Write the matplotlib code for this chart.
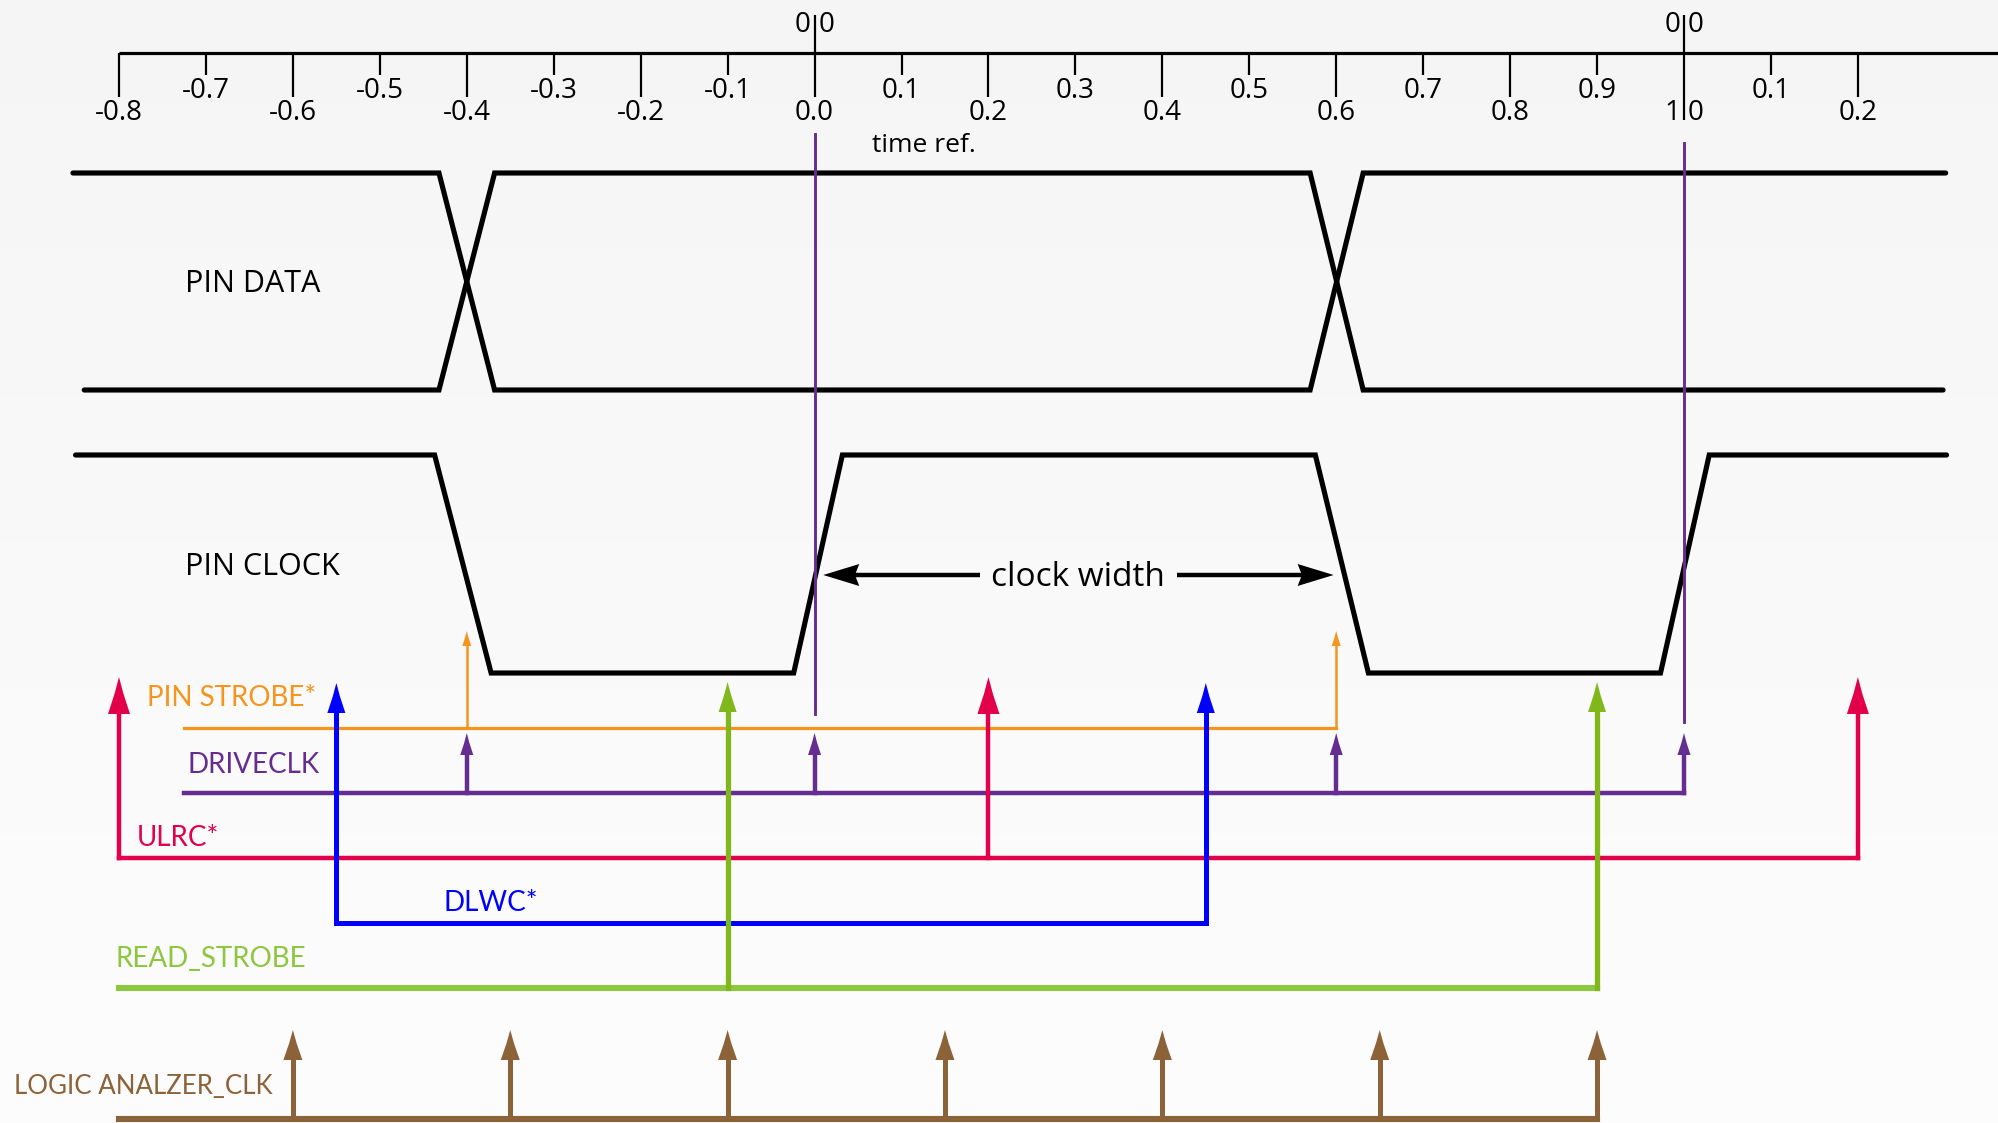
import numpy as np
import matplotlib
matplotlib.use("Agg")
import matplotlib.pyplot as plt
from matplotlib.patches import Polygon

# ---------------- data ----------------
tick_pos = [-0.8, -0.7, -0.6, -0.5, -0.4, -0.3, -0.2, -0.1, 0.0, 0.1,
            0.2, 0.3, 0.4, 0.5, 0.6, 0.7, 0.8, 0.9, 1.0, 1.1, 1.2]
tick_labels = ["-0.8", "-0.7", "-0.6", "-0.5", "-0.4", "-0.3", "-0.2", "-0.1",
               "0.0", "0.1", "0.2", "0.3", "0.4", "0.5", "0.6", "0.7", "0.8",
               "0.9", "1.0", "0.1", "0.2"]

# PIN DATA: two crossing traces (time, level 1=high / 0=low)
data_a_t = [-0.853, -0.432, -0.368, 0.570, 0.631, 1.301]
data_a_lv = [1, 1, 0, 0, 1, 1]
data_b_t = [-0.840, -0.432, -0.368, 0.570, 0.631, 1.298]
data_b_lv = [0, 0, 1, 1, 0, 0]

# PIN CLOCK
clock_t = [-0.850, -0.437, -0.372, -0.024, 0.032, 0.576, 0.637, 0.973, 1.029, 1.302]
clock_lv = [1, 1, 0, 0, 1, 1, 0, 0, 1, 1]

time_ref_t = [0.0, 1.0]
clock_width_t = [0.010, 0.597]

pin_strobe_start = -0.725
pin_strobe_t = [-0.4, 0.6]
driveclk_start = -0.725
driveclk_t = [-0.4, 0.0, 0.6, 1.0]
ulrc_t = [-0.8, 0.2, 1.2]
dlwc_t = [-0.55, 0.45]
read_strobe_start = -0.8
read_strobe_t = [-0.1, 0.9]
la_clk_start = -0.8
la_clk_t = [-0.6, -0.35, -0.1, 0.15, 0.4, 0.65, 0.9]

# ---------------- figure ----------------
W, H, DPI = 1999, 1123, 100
fig = plt.figure(figsize=(W / DPI, H / DPI), dpi=DPI)
ax = fig.add_axes([0, 0, 1, 1])
PXT = (1684 - 119) / 1.8            # pixels per time unit
XMIN = -0.8 - 119 / PXT
XMAX = XMIN + W / PXT
ax.set_xlim(XMIN, XMAX)
ax.set_ylim(H, 0)
ax.axis("off")

# background gradient
grad = np.linspace(0, 1, 256).reshape(-1, 1)
ax.imshow(np.dstack([0.962 + 0.03 * grad] * 3), extent=[XMIN, XMAX, H, 0],
          aspect="auto", zorder=0, interpolation="bilinear")

TICKFONT = ["Liberation Sans Narrow", "Open Sans", "DejaVu Sans"]
LABFONT = ["Lato", "Open Sans", "DejaVu Sans"]
REGFONT = ["Open Sans", "DejaVu Sans"]

# ---------------- time axis ----------------
AX_Y = 53
ax.plot([tick_pos[0], XMAX], [AX_Y, AX_Y], color="black", lw=2.3,
        solid_capstyle="butt", zorder=3)
for i, (tp, tl) in enumerate(zip(tick_pos, tick_labels)):
    major = (i % 2 == 0)
    y_end = 97 if major else 75
    y_top = AX_Y
    if tp == 0.0:
        y_top = 15
    if tp == 1.0:
        y_top, y_end = 15, 120
    ax.plot([tp, tp], [y_top, y_end], color="black", lw=1.6, zorder=4,
            solid_capstyle="butt")
    ly = 113 if major else 91
    if tp == 1.0:
        ax.text(tp - 4 / PXT, ly, "1", ha="right", va="center", fontsize=20,
                family=TICKFONT, zorder=5)
        ax.text(tp + 4 / PXT, ly, "0", ha="left", va="center", fontsize=20,
                family=TICKFONT, zorder=5)
    else:
        ax.text(tp, ly, tl, ha="center", va="center", fontsize=20,
                family=TICKFONT, zorder=5)
    if tp in (0.0, 1.0):
        ax.text(tp - 4 / PXT, 25, "0", ha="right", va="center", fontsize=20,
                family=TICKFONT, zorder=5)
        ax.text(tp + 4 / PXT, 25, "0", ha="left", va="center", fontsize=20,
                family=TICKFONT, zorder=5)

ax.text(XMIN + 872 / PXT, 145, "time ref.", ha="left", va="center", fontsize=19,
        family=REGFONT, zorder=5)

# ---------------- waveforms ----------------
def level_y(lv, hi, lo):
    return [hi if v else lo for v in lv]

WLW = 3.7
ax.plot(data_a_t, level_y(data_a_lv, 173, 390), color="black", lw=WLW,
        solid_joinstyle="miter", solid_capstyle="round", zorder=3)
ax.plot(data_b_t, level_y(data_b_lv, 173, 390), color="black", lw=WLW,
        solid_joinstyle="miter", solid_capstyle="round", zorder=3)
ax.plot(clock_t, level_y(clock_lv, 455, 673), color="black", lw=WLW,
        solid_joinstyle="miter", solid_capstyle="round", zorder=3)

ax.text(XMIN + 185 / PXT, 284, "PIN DATA", ha="left", va="center", fontsize=22,
        family=REGFONT, zorder=5)
ax.text(XMIN + 185 / PXT, 567, "PIN CLOCK", ha="left", va="center", fontsize=22,
        family=REGFONT, zorder=5)

# time reference lines
PURPLE = "#662d91"
ax.plot([time_ref_t[0]] * 2, [134, 714], color=PURPLE, lw=2.1, zorder=4)
ax.plot([time_ref_t[1]] * 2, [143, 722], color=PURPLE, lw=2.1, zorder=4)

# clock width dimension arrow
CW_Y = 575
mid = 0.5 * (clock_width_t[0] + clock_width_t[1])
gap = 0.113
for tip, end in ((clock_width_t[0], mid - gap), (clock_width_t[1], mid + gap)):
    d = 1 if end > tip else -1
    hl = 36 / PXT
    ax.plot([tip + d * hl * 0.8, end], [CW_Y, CW_Y], color="black", lw=3.2,
            solid_capstyle="butt", zorder=4)
    ax.add_patch(Polygon([(tip, CW_Y), (tip + d * hl, CW_Y - 11),
                          (tip + d * hl * 0.88, CW_Y), (tip + d * hl, CW_Y + 11)],
                         closed=True, color="black", lw=0, zorder=5))
ax.text(mid, CW_Y + 3, "clock width", ha="center", va="center", fontsize=24,
        family=REGFONT, zorder=5)


# ---------------- event signals ----------------
def head(t, y_tip, color, hw, hl):
    dx = hw / PXT
    pts = [(t, y_tip), (t + 0.2 * dx, y_tip + 0.45 * hl), (t + 0.5 * dx, y_tip + hl),
           (t - 0.5 * dx, y_tip + hl), (t - 0.2 * dx, y_tip + 0.45 * hl)]
    ax.add_patch(Polygon(pts, closed=True, color=color, lw=0, zorder=6))


def signal(start, events, y_bus, y_tip, color, lw, hw, hl, stem_color=None,
           stem_lw=None):
    stem_color = stem_color or color
    stem_lw = stem_lw or lw
    xs = [min(start, min(events)), max(events)]
    ax.plot(xs, [y_bus, y_bus], color=color, lw=lw, solid_capstyle="projecting",
            zorder=5)
    for t in events:
        ax.plot([t, t], [y_bus, y_tip + hl * 0.9], color=stem_color, lw=stem_lw,
                solid_capstyle="projecting", zorder=5)
        head(t, y_tip, stem_color, hw, hl)


signal(pin_strobe_start, pin_strobe_t, 728, 631, "#f7941d", 2.3, 9, 15,
       stem_lw=1.8)
signal(driveclk_start, driveclk_t, 793, 733, PURPLE, 3.2, 13, 22)
signal(ulrc_t[0], ulrc_t, 858, 677, "#e2004a", 3.2, 22, 37)
signal(dlwc_t[0], dlwc_t, 923, 683, "#0000ff", 3.6, 18, 30)
signal(read_strobe_start, read_strobe_t, 988, 682, "#8dc63f", 4.4, 18, 30,
       stem_color="#80b81c", stem_lw=3.8)
signal(la_clk_start, la_clk_t, 1119, 1030, "#8c6239", 4.4, 19, 30, stem_lw=3.6)

labels = [
    ("PIN STROBE*", 147, 698, "#f7941d", 20),
    ("DRIVECLK", 188, 765, PURPLE, 20),
    ("ULRC*", 137, 838, "#e2004a", 20),
    ("DLWC*", 444, 903, "#0000ff", 20),
    ("READ_STROBE", 115, 959, "#8dc63f", 20),
    ("LOGIC ANALZER_CLK", 14, 1087, "#8c6239", 18.6),
]
for txt, px, py, col, fs in labels:
    ax.text(XMIN + px / PXT, py, txt, ha="left", va="center", fontsize=fs,
            family=LABFONT, color=col, zorder=7)

fig.savefig("out.png", dpi=DPI)
